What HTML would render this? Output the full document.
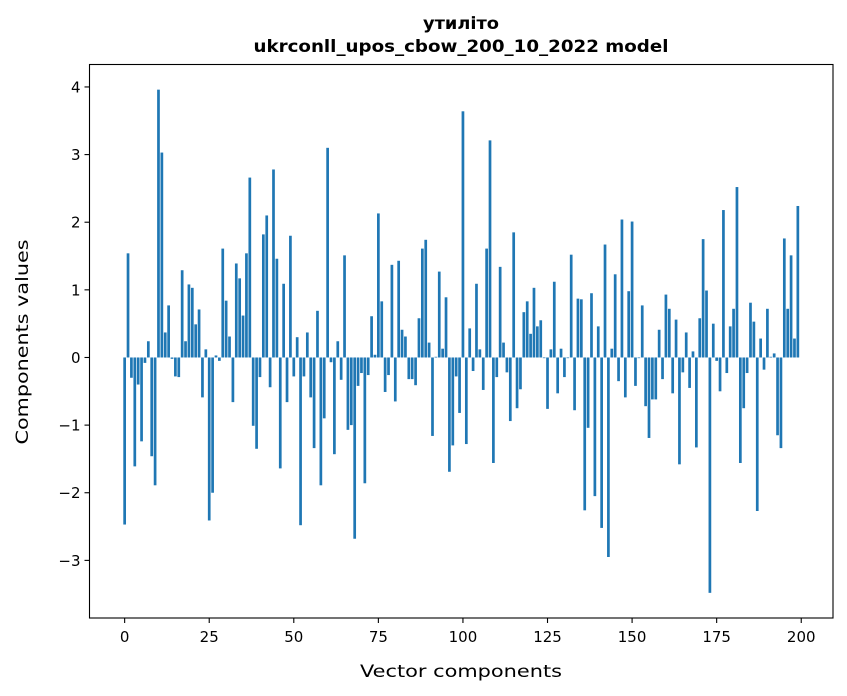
<!DOCTYPE html>
<html><head><meta charset="utf-8"><style>
html,body{margin:0;padding:0;background:#fff;}
svg{display:block;font-family:"DejaVu Sans","Liberation Sans",sans-serif;}
</style></head><body>
<svg id="chart" width="847" height="696" viewBox="0 0 847 696" xmlns="http://www.w3.org/2000/svg">
<rect width="847" height="696" fill="#fff"/>
<text x="461" y="29" text-anchor="middle" font-family="DejaVu Sans, sans-serif" font-weight="bold" font-size="16.5" textLength="76" lengthAdjust="spacingAndGlyphs">утиліто</text>
<text x="461" y="52" text-anchor="middle" font-family="DejaVu Sans, sans-serif" font-weight="bold" font-size="16.5" textLength="415" lengthAdjust="spacingAndGlyphs">ukrconll_upos_cbow_200_10_2022 model</text>
<g id="bars"></g>
<g id="xticks"></g>
<g id="yticks"></g>
<rect x="89.5" y="64.5" width="743.5" height="553.5" fill="none" stroke="#000" stroke-width="1.1"/>
<text x="461" y="677" text-anchor="middle" font-size="17" textLength="202" lengthAdjust="spacingAndGlyphs">Vector components</text>
<text transform="translate(28,342) rotate(-90)" text-anchor="middle" font-size="17" textLength="205" lengthAdjust="spacingAndGlyphs">Components values</text>
</svg>
<script>
const values = [
-2.47,1.54,-0.30,-1.61,-0.40,-1.24,-0.08,0.24,-1.46,-1.89,
3.96,3.03,0.37,0.77,-0.02,-0.28,-0.29,1.29,0.24,1.08,
1.03,0.49,0.71,-0.59,0.12,-2.41,-2.00,0.03,-0.05,1.61,
0.84,0.31,-0.66,1.39,1.17,0.62,1.54,2.66,-1.01,-1.35,
-0.29,1.82,2.10,-0.44,2.78,1.46,-1.64,1.09,-0.66,1.80,
-0.28,0.30,-2.48,-0.28,0.37,-0.59,-1.34,0.69,-1.89,-0.90,
3.10,-0.07,-1.43,0.24,-0.33,1.51,-1.07,-1.00,-2.68,-0.42,
-0.23,-1.86,-0.26,0.61,0.04,2.13,0.83,-0.51,-0.26,1.37,
-0.65,1.43,0.41,0.31,-0.32,-0.32,-0.41,0.58,1.61,1.74,
0.22,-1.16,0.01,1.27,0.13,0.89,-1.69,-1.30,-0.28,-0.82,
3.64,-1.28,0.43,-0.20,1.09,0.12,-0.48,1.61,3.21,-1.56,
-0.29,1.34,0.22,-0.22,-0.94,1.85,-0.75,-0.47,0.67,0.83,
0.35,1.03,0.46,0.55,-0.01,-0.76,0.12,1.12,-0.53,0.13,
-0.29,-0.01,1.52,-0.78,0.87,0.86,-2.26,-1.04,0.95,-2.05,
0.46,-2.52,1.67,-2.95,0.13,1.23,-0.35,2.04,-0.59,0.98,
2.01,-0.42,-0.01,0.77,-0.72,-1.19,-0.62,-0.62,0.41,-0.32,
0.93,0.72,-0.53,0.56,-1.58,-0.22,0.37,-0.45,0.09,-1.33,
0.58,1.75,0.99,-3.48,0.50,-0.05,-0.50,2.18,-0.23,0.46,
0.72,2.52,-1.56,-0.75,-0.23,0.81,0.53,-2.27,0.28,-0.18,
0.72,0.01,0.06,-1.15,-1.34,1.76,0.72,1.51,0.28,2.24
];
const xTickValues = [0,25,50,75,100,125,150,175,200];
const yTickValues = [-3,-2,-1,0,1,2,3,4];
const yTickLabels = ["\u22123","\u22122","\u22121","0","1","2","3","4"];

const NS = "http://www.w3.org/2000/svg";
const L = 89.5, R = 833, T = 64.5, B = 618;
const barW = 0.8;
const n = values.length;
const xMinD = -barW/2, xMaxD = n - 1 + barW/2;
const xm = (xMaxD - xMinD) * 0.05;
const xlo = xMinD - xm, xhi = xMaxD + xm;
const vmin = Math.min(0, ...values), vmax = Math.max(0, ...values);
const ym = (vmax - vmin) * 0.05;
const ylo = vmin - ym, yhi = vmax + ym;
function xs(v){ return L + (v - xlo) / (xhi - xlo) * (R - L); }
function ys(v){ return B - (v - ylo) / (yhi - ylo) * (B - T); }

const gb = document.getElementById('bars');
values.forEach((v, i) => {
  const r = document.createElementNS(NS, 'rect');
  const x0 = xs(i - barW/2), x1 = xs(i + barW/2);
  const y0 = ys(Math.max(0, v)), y1 = ys(Math.min(0, v));
  r.setAttribute('x', x0);
  r.setAttribute('width', x1 - x0);
  r.setAttribute('y', y0);
  r.setAttribute('height', Math.max(0, y1 - y0));
  r.setAttribute('fill', '#1f77b4');
  
  
  gb.appendChild(r);
});

const gx = document.getElementById('xticks');
xTickValues.forEach(t => {
  const x = xs(t);
  const ln = document.createElementNS(NS, 'line');
  ln.setAttribute('x1', x); ln.setAttribute('x2', x);
  ln.setAttribute('y1', B); ln.setAttribute('y2', B + 5);
  ln.setAttribute('stroke', '#000'); ln.setAttribute('stroke-width', '1.1');
  
  
  gx.appendChild(ln);
  const tx = document.createElementNS(NS, 'text');
  tx.setAttribute('x', x); tx.setAttribute('y', B + 24);
  tx.setAttribute('text-anchor', 'middle'); tx.setAttribute('font-size', '15');
  tx.textContent = String(t);
  
  
  gx.appendChild(tx);
});

const gy = document.getElementById('yticks');
yTickValues.forEach((t, k) => {
  const y = ys(t);
  const ln = document.createElementNS(NS, 'line');
  ln.setAttribute('x1', L - 5); ln.setAttribute('x2', L);
  ln.setAttribute('y1', y); ln.setAttribute('y2', y);
  ln.setAttribute('stroke', '#000'); ln.setAttribute('stroke-width', '1.1');
  
  
  gy.appendChild(ln);
  const tx = document.createElementNS(NS, 'text');
  tx.setAttribute('x', L - 9); tx.setAttribute('y', y + 5.5);
  tx.setAttribute('text-anchor', 'end'); tx.setAttribute('font-size', '15');
  tx.textContent = yTickLabels[k];
  
  
  gy.appendChild(tx);
});
</script>
</body></html>
